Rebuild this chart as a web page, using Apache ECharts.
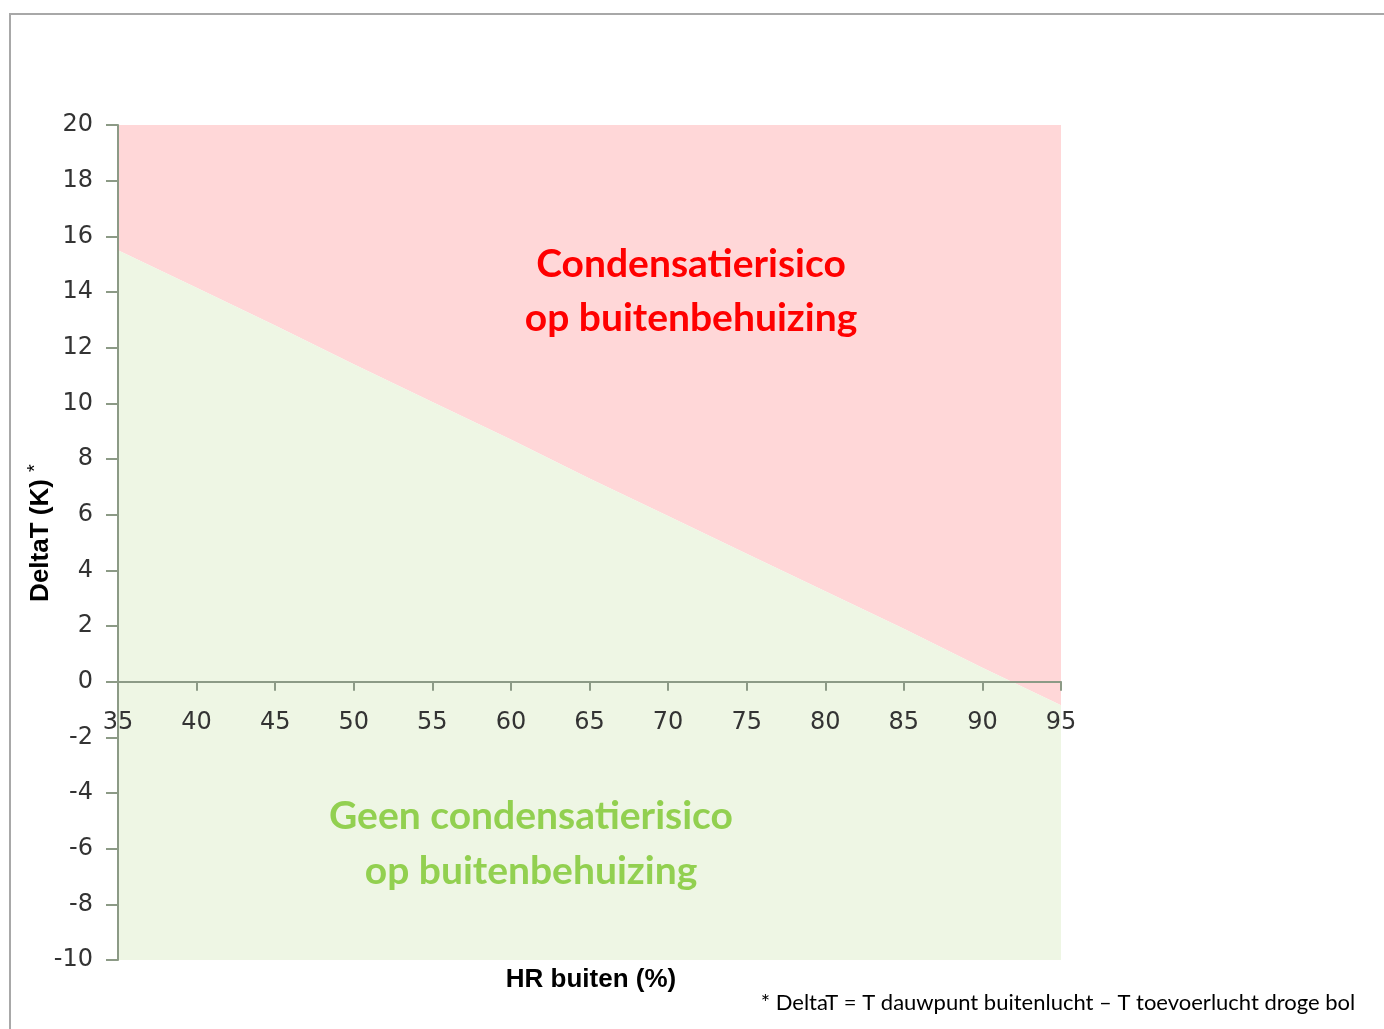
<!DOCTYPE html>
<html>
<head>
<meta charset="utf-8">
<title>DeltaT vs HR buiten</title>
<script src="https://cdn.jsdelivr.net/npm/echarts@6/dist/echarts.min.js"></script>
<style>
  html, body { margin: 0; padding: 0; background: #ffffff; }
  #chart { width: 1384px; height: 1029px; }
</style>
</head>
<body>
<div id="chart"></div>
<script>
// Relative humidity outside (%) and the DeltaT boundary where condensation starts
const hrBuiten = [35, 40, 45, 50, 55, 60, 65, 70, 75, 80, 85, 90, 95];
const deltaTGrens = [15.5, 14.15, 12.8, 11.4, 10.05, 8.7, 7.3, 5.95, 4.6, 3.25, 1.9, 0.5, -0.85];

const xRange = { min: 35, max: 95, interval: 5 };
const yRange = { min: -10, max: 20, interval: 2 };

const zoneLabels = {
  risk: ['Condensatierisico', 'op buitenbehuizing'],
  safe: ['Geen condensatierisico', 'op buitenbehuizing']
};
const axisTitles = { x: 'HR buiten (%)', y: 'DeltaT (K) ' };
const footnote = '* DeltaT = T dauwpunt buitenlucht \u2013 T toevoerlucht droge bol';

const boundary = hrBuiten.map((x, i) => [x, deltaTGrens[i]]);

const gridBox = { left: 118, right: 323, top: 125, bottom: 69 };
const plotHeight = 1029 - gridBox.top - gridBox.bottom;
// the HR axis crosses the DeltaT axis at 0: shift it up from the bottom of the grid
const zeroOffset = -plotHeight * (0 - yRange.min) / (yRange.max - yRange.min);

const axisColor = '#8c9a86';
const labelFont = { fontFamily: 'DejaVu Sans', fontSize: 24, color: '#333333' };

const chart = echarts.init(document.getElementById('chart'), null, { renderer: 'canvas' });

chart.setOption({
  animation: false,
  backgroundColor: '#ffffff',
  grid: gridBox,
  xAxis: {
    type: 'value',
    min: xRange.min, max: xRange.max, interval: xRange.interval,
    position: 'bottom',
    offset: zeroOffset,
    z: 5,
    axisLine: { onZero: false, lineStyle: { color: axisColor, width: 2 } },
    axisTick: { show: true, length: 9, lineStyle: { color: axisColor, width: 2 } },
    axisLabel: Object.assign({ margin: 29 }, labelFont),
    splitLine: { show: false }
  },
  yAxis: {
    type: 'value',
    min: yRange.min, max: yRange.max, interval: yRange.interval,
    z: 5,
    axisLine: { show: true, onZero: false, lineStyle: { color: axisColor, width: 2 } },
    axisTick: { show: true, length: 12, lineStyle: { color: axisColor, width: 2 } },
    axisLabel: Object.assign({ margin: 25 }, labelFont),
    splitLine: { show: false }
  },
  series: [
    {
      name: 'risico',
      type: 'line',
      data: boundary,
      symbol: 'none',
      silent: true,
      lineStyle: { width: 0 },
      areaStyle: { color: '#ffd7d8', opacity: 1, origin: 'end' },
      z: 1
    },
    {
      name: 'geen risico',
      type: 'line',
      data: boundary,
      symbol: 'none',
      silent: true,
      lineStyle: { width: 0 },
      areaStyle: { color: '#eef6e4', opacity: 1, origin: 'start' },
      z: 1
    }
  ],
  graphic: [
    {
      type: 'rect',
      shape: { x: 10, y: 14, width: 1420, height: 1100 },
      style: { fill: 'none', stroke: '#a8a8a8', lineWidth: 2 },
      silent: true
    },
    {
      type: 'text', x: 691, y: 264, z: 10,
      style: { text: zoneLabels.risk[0], fill: '#ff0000', font: 'bold 39px Lato', textAlign: 'center', textVerticalAlign: 'middle' }
    },
    {
      type: 'text', x: 691, y: 318, z: 10,
      style: { text: zoneLabels.risk[1], fill: '#ff0000', font: 'bold 39px Lato', textAlign: 'center', textVerticalAlign: 'middle' }
    },
    {
      type: 'text', x: 531, y: 816, z: 10,
      style: { text: zoneLabels.safe[0], fill: '#92d050', font: 'bold 39px Lato', textAlign: 'center', textVerticalAlign: 'middle' }
    },
    {
      type: 'text', x: 531, y: 871, z: 10,
      style: { text: zoneLabels.safe[1], fill: '#92d050', font: 'bold 39px Lato', textAlign: 'center', textVerticalAlign: 'middle' }
    },
    {
      // vertical axis title with a raised asterisk
      type: 'text', x: 41, y: 533, rotation: Math.PI / 2, z: 10,
      style: {
        text: '{t|' + axisTitles.y + '}{s|*}',
        align: 'center', verticalAlign: 'middle',
        rich: {
          t: { fontFamily: 'Liberation Sans', fontWeight: 'bold', fontSize: 26, fill: '#000' },
          s: { fontFamily: 'Liberation Sans', fontSize: 20, fill: '#000', padding: [0, 0, 12, 0] }
        }
      }
    },
    {
      type: 'text', x: 591, y: 980, z: 10,
      style: { text: axisTitles.x, fill: '#000', font: 'bold 26px "Liberation Sans"', textAlign: 'center', textVerticalAlign: 'middle' }
    },
    {
      type: 'text', x: 1058, y: 1003, z: 10,
      style: { text: footnote, fill: '#000', font: '22px Lato', textAlign: 'center', textVerticalAlign: 'middle' }
    }
  ]
});
</script>
</body>
</html>
